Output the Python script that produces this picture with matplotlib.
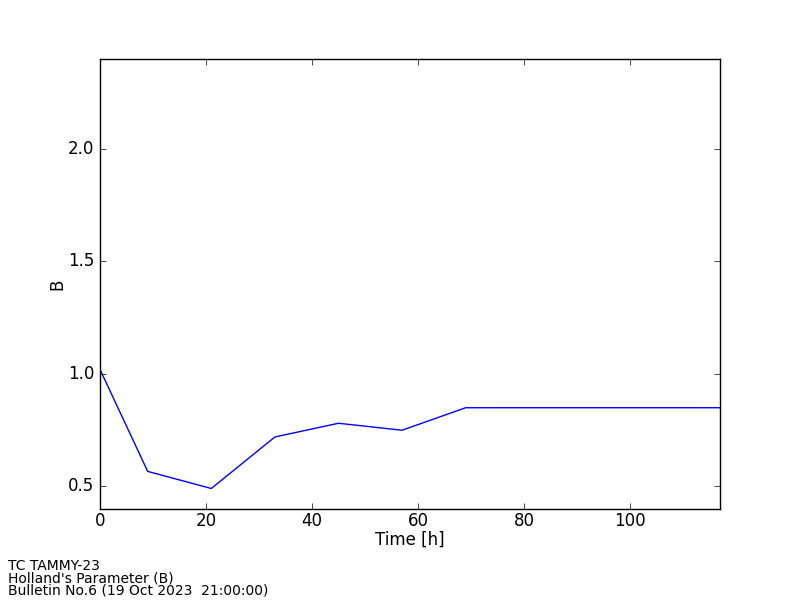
import matplotlib
matplotlib.use('Agg')
import matplotlib.pyplot as plt

# forecast hours and Holland's B parameter
hours = [0, 9, 21, 33, 45, 57, 69, 81, 93, 105, 117]
b_values = [1.02, 0.567, 0.491, 0.72, 0.781, 0.75, 0.85, 0.85, 0.85, 0.85, 0.85]

info_lines = ["TC TAMMY-23", "Holland's Parameter (B)", "Bulletin No.6 (19 Oct 2023  21:00:00)"]

plt.style.use('classic')

fig = plt.figure(figsize=(8, 6), dpi=100, facecolor='white')
ax = fig.add_axes([0.125, 0.1517, 0.775, 0.75])

ax.plot(hours, b_values, color='b', linewidth=1.0)

ax.set_xlim(0, 117)
ax.set_ylim(0.4, 2.4)
ax.set_xticks([0, 20, 40, 60, 80, 100])
ax.set_yticks([0.5, 1.0, 1.5, 2.0])
ax.tick_params(direction='in', top=True, right=True, labelsize=12, length=4)
ax.tick_params(axis='x', pad=2)

ax.set_xlabel('Time [h]', fontsize=12, labelpad=1)
ax.set_ylabel('B', fontsize=12, labelpad=1)

fig.text(0.01, 0.004, "\n".join(info_lines), fontsize=10, ha='left', va='bottom', linespacing=0.86)

fig.savefig('out.png', dpi=100, facecolor='white')
